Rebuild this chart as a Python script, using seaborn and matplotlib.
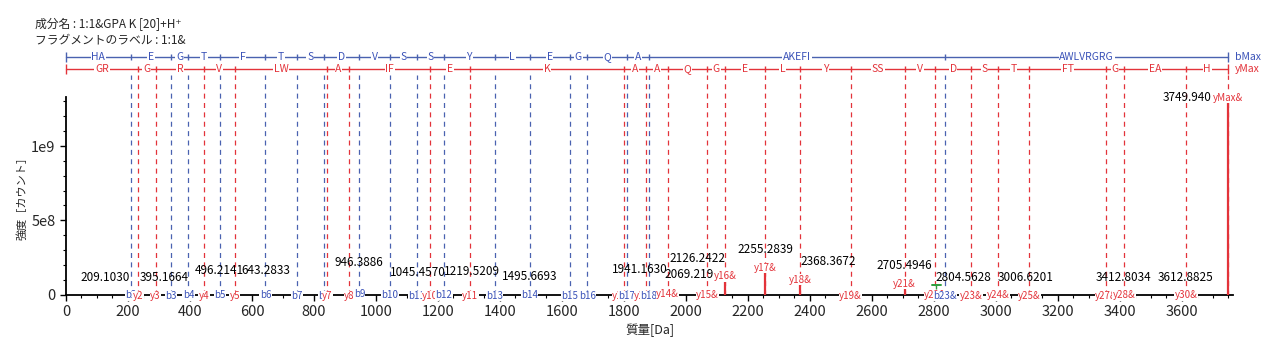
# MS/MS fragment spectrum (b / y ladder) for 1:1&GPA K [20]+H+
import numpy as np
import matplotlib
matplotlib.use("Agg")
import matplotlib.pyplot as plt
import matplotlib.transforms as mtransforms
from matplotlib.ticker import MultipleLocator, FuncFormatter
import seaborn as sns

# b ions
b_names = ["b2", "b3", "b4", "b5", "b6", "b7", "b8", "b9", "b10", "b11", "b12",
           "b13", "b14", "b15", "b16", "b17", "b18", "b23&"]
b_mz = [209.103, 338.146, 395.167, 496.215, 643.283, 744.331, 831.363, 946.390,
        1045.459, 1132.491, 1219.523, 1382.586, 1495.670, 1624.713, 1681.734,
        1809.793, 1880.830, 2836.429]
b_residues = ["HA", "E", "G", "T", "F", "T", "S", "D", "V", "S", "S", "Y", "L",
              "E", "G", "Q", "A", "AKEFI", "AWLVRGRG"]

# y ions
y_names = ["y2", "y3", "y4", "y5", "y7", "y8", "y10", "y11", "y12&", "y13&", "y14&",
           "y15&", "y16&", "y17&", "y18&", "y19&", "y21&", "y22&", "y23&", "y24&",
           "y25&", "y27&", "y28&", "y30&"]
y_mz = [232.140, 289.162, 445.263, 544.331, 843.495, 914.532, 1174.684, 1303.727,
        1799.094, 1870.131, 1941.168, 2069.227, 2126.248, 2255.291, 2368.375,
        2531.438, 2705.502, 2804.571, 2919.598, 3006.630, 3107.678, 3355.794,
        3412.815, 3612.895]
y_residues = ["GR", "G", "R", "V", "LW", "A", "IF", "E", "K", "A", "A", "Q", "G",
              "E", "L", "Y", "SS", "V", "D", "S", "T", "FT", "G", "EA", "H"]

max_mz = 3749.95

# observed peaks
peak_ions = ["b2", "b4", "b5", "b6", "b9", "b10", "b12", "b14", "y14&", "y15&",
             "y16&", "y17&", "y18&", "y21&", "y22&", "y24&", "y28&", "y30&", "yMax&"]
peak_mz = [209.1030, 395.1664, 496.2141, 643.2833, 946.3886, 1045.4570, 1219.5209,
           1495.6693, 1941.1630, 2069.219, 2126.2422, 2255.2839, 2368.3672,
           2705.4946, 2804.5628, 3006.6201, 3412.8034, 3612.8825, 3749.940]
peak_text = ["209.1030", "395.1664", "496.2141", "643.2833", "946.3886", "1045.4570",
             "1219.5209", "1495.6693", "1941.1630", "2069.219", "2126.2422",
             "2255.2839", "2368.3672", "2705.4946", "2804.5628", "3006.6201",
             "3412.8034", "3612.8825", "3749.940"]
peak_int = [5e6, 5e6, 8e6, 8e6, 1.2e7, 6e6, 8e6, 5e6, 1.5e7, 1e7, 9e7, 1.45e8,
            6.5e7, 4e7, 5e6, 5e6, 5e6, 5e6, 1.29e9]

BLUE = "#3a52b8"
BLUE_LINE = "#4a62b0"
RED = "#e3333a"
PX = 72 / 100  # pixels -> points

if __name__ == "__main__":
    sns.set_style("ticks")
    plt.rcParams["font.family"] = ["Noto Sans CJK JP", "DejaVu Sans"]

    fig = plt.figure(figsize=(12.8, 3.52), dpi=100)
    ax = fig.add_axes([66 / 1280, 57.5 / 352, 1167 / 1280, 197.5 / 352])
    ax.set_xlim(0, 3765)
    ax.set_ylim(0, 1.33e9)
    trans = mtransforms.blended_transform_factory(ax.transData, ax.transAxes)

    # dashed guide lines from the ladders down to the axis
    dash = (0, (4, 3.5))
    ax.vlines(b_mz, 0, 1.112, transform=trans, colors=BLUE_LINE, lw=0.9,
              linestyles=dash, clip_on=False, zorder=1)
    ax.vlines(y_mz + [max_mz], 0, 1.112, transform=trans, colors=RED, lw=0.9,
              linestyles=dash, clip_on=False, zorder=1)

    # peaks
    peak_col = [BLUE if p.startswith("b") else RED for p in peak_ions]
    ax.vlines(peak_mz, 0, peak_int, colors=peak_col, lw=1.6, zorder=3)

    # sequence ladders above the plot
    for mzs, residues, yax, col, lcol, end in [
            (b_mz, b_residues, 1.203, BLUE, BLUE_LINE, "bMax"),
            (y_mz, y_residues, 1.142, RED, RED, "yMax")]:
        bounds = [0] + list(mzs) + [max_mz]
        ax.plot([0, max_mz], [yax, yax], transform=trans, color=lcol, lw=1,
                clip_on=False)
        ax.vlines(bounds[1:-1], yax - 0.014, yax + 0.014, transform=trans,
                  colors=lcol, lw=1, clip_on=False)
        ax.vlines([0, max_mz], yax - 0.025, yax + 0.025, transform=trans,
                  colors=lcol, lw=1, clip_on=False)
        for i, r in enumerate(residues):
            ax.text((bounds[i] + bounds[i + 1]) / 2, yax, r, transform=trans,
                    ha="center", va="center", fontsize=7.5, color=col,
                    bbox=dict(fc="white", ec="none", pad=0.5), clip_on=False)
        ax.text(max_mz + 20, yax, end, transform=trans, ha="left", va="center",
                fontsize=7.5, color=col, clip_on=False)

    # ion labels along the axis
    obs = dict(zip(peak_ions, peak_int))
    ions = sorted([(m, n, BLUE) for m, n in zip(b_mz, b_names)] +
                  [(m, n, RED) for m, n in zip(y_mz, y_names)] +
                  [(max_mz, "yMax&", RED)])
    ion_dy = {}
    for m, n, col in ions:
        inten = obs.get(n, 0)
        dy = 5 * PX if inten > 3e7 else -1.5 * PX
        ion_dy[n] = dy
        ax.annotate(n, (m, inten), xytext=(0, dy), textcoords="offset points",
                    ha="center", va="center", fontsize=7, color=col,
                    bbox=dict(fc="white", ec="none", pad=0.3), zorder=4,
                    annotation_clip=False)

    # m/z labels above the peaks
    mass_ha = ["right", "right", "center", "center", "center", "left", "left",
               "center", "right", "right", "right", "center", "left", "center",
               "left", "left", "center", "center", "right"]
    mass_dx = [-1, 0, 0, 0, 0, 0, 0, 0, 0, 6, 0, 0, 0, 0, 0, 0, 0, 0, -17]
    mass_dy = [0, 0, 6, 6, 14, 5, 5, 1, 6, 2, 0, 0, 0, 0, 0, 0, 0, 0, -18]
    for n, m, t, inten, ha, dx, dy in zip(peak_ions, peak_mz, peak_text, peak_int,
                                          mass_ha, mass_dx, mass_dy):
        ax.annotate(t, (m, inten), xytext=(dx * PX, ion_dy[n] + (18 + dy) * PX),
                    textcoords="offset points", ha=ha, va="center", fontsize=8.5,
                    color="black", zorder=5, annotation_clip=False)

    # small green isotope bracket at 2804
    ax.plot([2794, 2822], [6.2e7, 6.2e7], color="#2e9e3e", lw=1.4, zorder=5)
    ax.vlines(2808, 3.5e7, 6.2e7, colors="#2e9e3e", lw=1, zorder=5)

    # axes styling
    sns.despine(ax=ax)
    for s in ["left", "bottom"]:
        ax.spines[s].set_linewidth(1.3)
        ax.spines[s].set_color("black")
    ax.xaxis.set_major_locator(MultipleLocator(200))
    ax.xaxis.set_minor_locator(MultipleLocator(50))
    ax.yaxis.set_major_locator(MultipleLocator(5e8))
    ax.yaxis.set_minor_locator(MultipleLocator(1e8))
    ax.yaxis.set_major_formatter(FuncFormatter(
        lambda v, p: "0" if v == 0 else f"{v:.0e}".replace("e+0", "e").replace("e+", "e")))
    ax.tick_params(which="major", length=4, width=1, labelsize=10.5, color="black")
    ax.tick_params(which="minor", length=2.5, width=0.8, color="black")
    ax.set_xlabel("質量[Da]", fontsize=9, labelpad=3)
    ax.set_ylabel("強度［カウント］", fontsize=8, labelpad=3)

    fig.text(35 / 1280, 1 - 24 / 352, "成分名 : 1:1&GPA K [20]+H⁺", fontsize=8.5,
             va="center", ha="left")
    fig.text(35 / 1280, 1 - 40 / 352, "フラグメントのラベル : 1:1&", fontsize=8.5,
             va="center", ha="left")

    fig.savefig("out.png", dpi=100)
